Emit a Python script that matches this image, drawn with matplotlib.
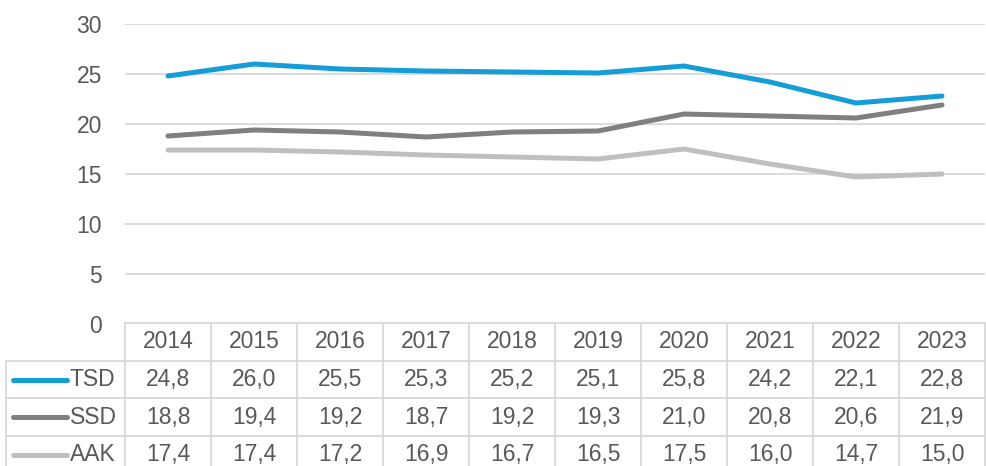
import matplotlib.pyplot as plt

years = ['2014', '2015', '2016', '2017', '2018', '2019', '2020', '2021', '2022', '2023']
tsd = [24.8, 26.0, 25.5, 25.3, 25.2, 25.1, 25.8, 24.2, 22.1, 22.8]
ssd = [18.8, 19.4, 19.2, 18.7, 19.2, 19.3, 21.0, 20.8, 20.6, 21.9]
aak = [17.4, 17.4, 17.2, 16.9, 16.7, 16.5, 17.5, 16.0, 14.7, 15.0]
series_names = ['TSD', 'SSD', 'AAK']
y_ticks = [0, 5, 10, 15, 20, 25, 30]

colors = ['#149dd7', '#7f7f7f', '#bfbfbf']
text_color = '#595959'
grid_color = '#d9d9d9'
fs = 16.5

plt.rcParams['font.family'] = ['Liberation Sans', 'DejaVu Sans']

W, H = 987, 466
fig = plt.figure(figsize=(W / 100, H / 100), dpi=100)

# plot area in pixels
left, right, top, bottom = 125, 985, 24, 324
ax = fig.add_axes([left / W, 1 - bottom / H, (right - left) / W, (bottom - top) / H])

x = range(len(years))
for vals, c in zip([tsd, ssd, aak], colors):
    ax.plot(x, vals, color=c, linewidth=3.6, solid_capstyle='round', zorder=3)

ax.set_xlim(-0.5, len(years) - 0.5)
ax.set_ylim(0, 30)
ax.set_yticks(y_ticks)
ax.set_yticklabels([str(t) for t in y_ticks], fontsize=fs, color=text_color)
ax.tick_params(axis='y', length=0, pad=16.5)
ax.set_xticks([])
ax.grid(axis='y', color=grid_color, linewidth=1.3)
for s in ax.spines.values():
    s.set_visible(False)

# data table drawn underneath in pixel coords
tab = fig.add_axes([0, 0, 1, 1])
tab.set_xlim(0, W)
tab.set_ylim(H, 0)
tab.axis('off')

colw = (right - left) / len(years)
row_top = 323
rowh = 37.7
n_rows = 1 + len(series_names)
legend_left = 6
lw = 1.3

# horizontal lines
tab.plot([left, right], [row_top, row_top], color=grid_color, lw=lw)
for i in range(1, n_rows + 1):
    y = row_top + i * rowh
    tab.plot([legend_left, right], [y, y], color=grid_color, lw=lw)
# vertical lines
for j in range(len(years) + 1):
    xv = left + j * colw
    tab.plot([xv, xv], [row_top, H + 20], color=grid_color, lw=lw)
tab.plot([legend_left, legend_left], [row_top + rowh, H + 20], color=grid_color, lw=lw)

for j, yr in enumerate(years):
    tab.text(left + (j + 0.5) * colw, row_top + 0.5 * rowh, yr, ha='center', va='center',
             fontsize=fs, color=text_color)

for i, (name, vals, c) in enumerate(zip(series_names, [tsd, ssd, aak], colors)):
    yc = row_top + (i + 1.5) * rowh
    tab.plot([13, 67], [yc, yc], color=c, lw=3.6, solid_capstyle='round')
    tab.text(70, yc, name, ha='left', va='center', fontsize=fs, color=text_color)
    for j, v in enumerate(vals):
        tab.text(left + (j + 0.5) * colw, yc, f'{v:.1f}'.replace('.', ','), ha='center',
                 va='center', fontsize=fs, color=text_color)

fig.savefig('out.png', dpi=100)
